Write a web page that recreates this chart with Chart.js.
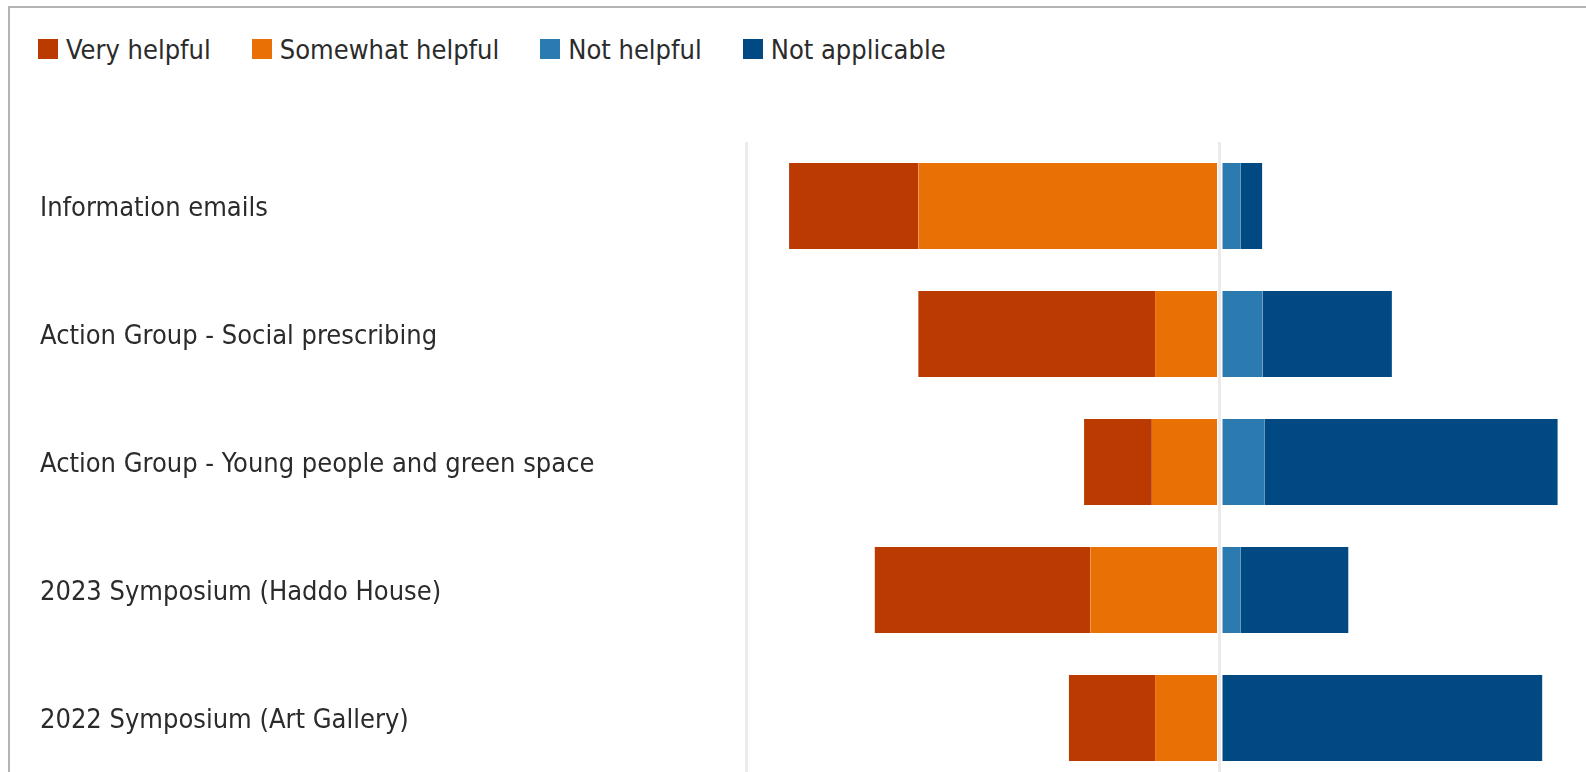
<!DOCTYPE html>
<html>
<head>
<meta charset="utf-8">
<script src="https://cdn.jsdelivr.net/npm/chart.js@4/dist/chart.umd.min.js"></script>
<style>
  html, body { margin: 0; padding: 0; background: #fff; overflow: hidden; }
  body { width: 1586px; height: 772px; position: relative; }
  .card {
    position: absolute; left: 8px; top: 6px; width: 1800px; height: 900px;
    border: 2px solid #b4b4b4; box-sizing: border-box;
  }
  #legend {
    position: absolute; left: 38px; top: 29px; height: 40px;
    display: flex; align-items: center; gap: 41px;
    font-family: "DejaVu Sans Condensed", "DejaVu Sans", sans-serif;
    font-size: 27px; color: #2b2b2b; white-space: nowrap;
  }
  #legend .item { display: flex; align-items: center; }
  #legend .swatch { width: 20px; height: 20px; margin-right: 8px; }
  #chartWrap { position: absolute; left: 0; top: 0; width: 1760px; height: 800px; }
</style>
</head>
<body>
<div class="card"></div>
<div id="legend"></div>
<div id="chartWrap"><canvas id="helpChart"></canvas></div>
<script>
const categories = [
  'Information emails',
  'Action Group - Social prescribing',
  'Action Group - Young people and green space',
  '2023 Symposium (Haddo House)',
  '2022 Symposium (Art Gallery)'
];

// share of responses, %
const veryHelpful = [27.3, 50.0, 14.3, 45.5, 18.2];
const somewhatHelpful = [63.6, 13.6, 14.3, 27.3, 13.6];
const notHelpful = [4.5, 9.1, 9.5, 4.5, 0];
const notApplicable = [4.5, 27.3, 61.9, 22.7, 68.2];

const legendOrder = ['Very helpful', 'Somewhat helpful', 'Not helpful', 'Not applicable'];
const seriesColors = {
  'Very helpful': '#ba3a02',
  'Somewhat helpful': '#e97005',
  'Not helpful': '#2b7bb1',
  'Not applicable': '#014982'
};

const labelFont = { family: '"DejaVu Sans Condensed", "DejaVu Sans", sans-serif', size: 27 };
const clear = 'rgba(0,0,0,0)';

// datasets are listed from the zero line outwards so the stacks build the right way
const datasets = [
  { label: 'Somewhat helpful', data: somewhatHelpful.map((v) => -v), borderWidth: { right: 1 } },
  { label: 'Very helpful', data: veryHelpful.map((v) => -v), borderWidth: 0 },
  { label: 'Not helpful', data: notHelpful, borderWidth: { left: 1.5 } },
  {
    label: 'Not applicable',
    data: notApplicable,
    // leave the zero line showing when there is no "not helpful" segment
    borderWidth: (ctx) => (notHelpful[ctx.dataIndex] === 0 ? { left: 1.5 } : 0)
  }
].map((ds) => ({
  ...ds,
  backgroundColor: seriesColors[ds.label],
  borderColor: clear,
  borderSkipped: false,
  barPercentage: 0.67,
  categoryPercentage: 1
}));

const chart = new Chart(document.getElementById('helpChart'), {
  type: 'bar',
  data: { labels: categories, datasets },
  options: {
    indexAxis: 'y',
    responsive: true,
    maintainAspectRatio: false,
    animation: false,
    layout: { padding: { left: 40, top: 142, right: 67, bottom: 18 } },
    plugins: {
      legend: { display: false },
      tooltip: {
        callbacks: {
          label: (ctx) => `${ctx.dataset.label}: ${Math.abs(ctx.raw)}%`
        }
      }
    },
    scales: {
      x: {
        stacked: true,
        min: -100,
        max: 100,
        ticks: { display: false, stepSize: 100 },
        grid: { color: '#ebebeb', lineWidth: 3, drawTicks: false },
        border: { display: false }
      },
      y: {
        stacked: true,
        grid: { display: false },
        border: { display: false },
        ticks: { crossAlign: 'far', color: '#2b2b2b', font: labelFont, padding: 0, labelOffset: 3 },
        afterFit: (scale) => { scale.width = 706; }
      }
    }
  }
});

// legend drawn as html, in reading order rather than stacking order
const legendBox = document.getElementById('legend');
legendOrder.forEach((name) => {
  const ds = chart.data.datasets.find((d) => d.label === name);
  const item = document.createElement('div');
  item.className = 'item';
  item.innerHTML = `<span class="swatch" style="background:${ds.backgroundColor}"></span><span>${name}</span>`;
  legendBox.appendChild(item);
});
</script>
</body>
</html>
